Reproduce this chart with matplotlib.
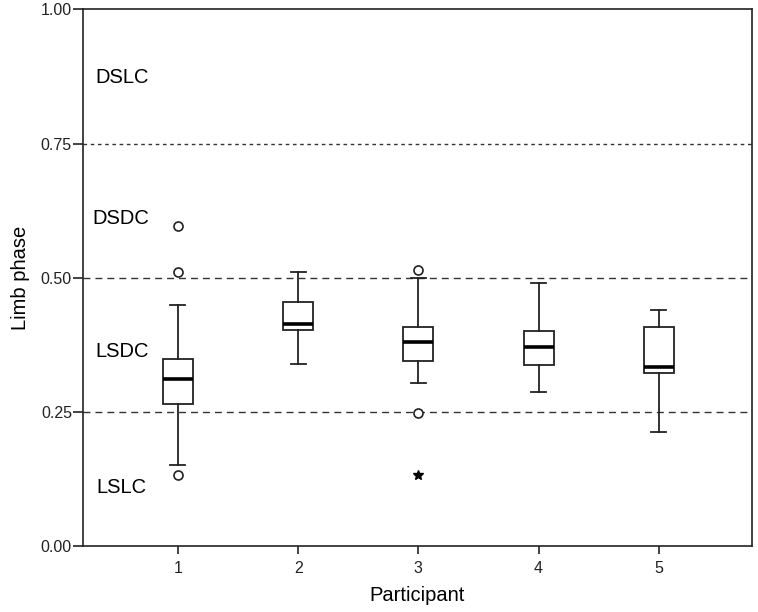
import matplotlib.pyplot as plt

plt.rcParams['font.family'] = ['Liberation Sans', 'DejaVu Sans']

# box plot summaries
participants = [1, 2, 3, 4, 5]
whislo = [0.150, 0.340, 0.304, 0.286, 0.213]
q1 = [0.264, 0.402, 0.344, 0.338, 0.323]
med = [0.311, 0.414, 0.381, 0.371, 0.333]
q3 = [0.349, 0.454, 0.408, 0.401, 0.408]
whishi = [0.449, 0.511, 0.500, 0.491, 0.440]
outliers = [[0.597, 0.511, 0.132], [], [0.514, 0.247], [], []]
extremes = [[], [], [0.132], [], []]

zone_labels = ['DSLC', 'DSDC', 'LSDC', 'LSLC']
zone_y = [0.874, 0.611, 0.363, 0.108]
zone_x = [0.31, 0.29, 0.31, 0.32]

fig, ax = plt.subplots(figsize=(7.58, 6.12), dpi=100)
fig.subplots_adjust(left=0.1095, right=0.992, top=0.9845, bottom=0.108)

# phase boundaries
ax.axhline(0.75, color='#333333', lw=1.0, dashes=(2.6, 2.6), zorder=1)
ax.axhline(0.50, color='#333333', lw=1.0, dashes=(5, 3.6), zorder=1)
ax.axhline(0.25, color='#333333', lw=1.0, dashes=(5, 3.6), zorder=1)

stats = []
for i in range(len(participants)):
    stats.append(dict(whislo=whislo[i], q1=q1[i], med=med[i], q3=q3[i],
                      whishi=whishi[i], fliers=outliers[i]))

ax.bxp(stats, positions=participants, widths=0.25, capwidths=0.125,
       patch_artist=True, manage_ticks=False,
       boxprops=dict(facecolor='white', edgecolor='#222222', lw=1.3),
       medianprops=dict(color='black', lw=2.6),
       whiskerprops=dict(color='#222222', lw=1.3),
       capprops=dict(color='#222222', lw=1.3),
       flierprops=dict(marker='o', markersize=6.5, markerfacecolor='white',
                       markeredgecolor='#222222', markeredgewidth=1.2),
       zorder=3)

for p, ext in zip(participants, extremes):
    for v in ext:
        ax.plot(p, v, marker='*', color='black', markersize=7, zorder=4)

for lab, x, y in zip(zone_labels, zone_x, zone_y):
    ax.text(x, y, lab, fontsize=14.5, ha='left', va='center', color='black')

ax.set_xlim(0.21, 5.775)
ax.set_ylim(0, 1)
ax.set_xticks(participants)
ax.set_yticks([0, 0.25, 0.5, 0.75, 1.0])
ax.set_yticklabels(['0.00', '0.25', '0.50', '0.75', '1.00'])
ax.tick_params(axis='both', labelsize=11.5, length=7, width=1.2, pad=1,
               color='#222222', labelcolor='#222222')
ax.tick_params(axis='x', length=6, pad=5)

ax.set_xlabel('Participant', fontsize=14.5, labelpad=7)
ax.set_ylabel('Limb phase', fontsize=14.5, labelpad=8)

for s in ax.spines.values():
    s.set_color('#222222')
    s.set_linewidth(1.2)

plt.savefig('out.png', dpi=100)
